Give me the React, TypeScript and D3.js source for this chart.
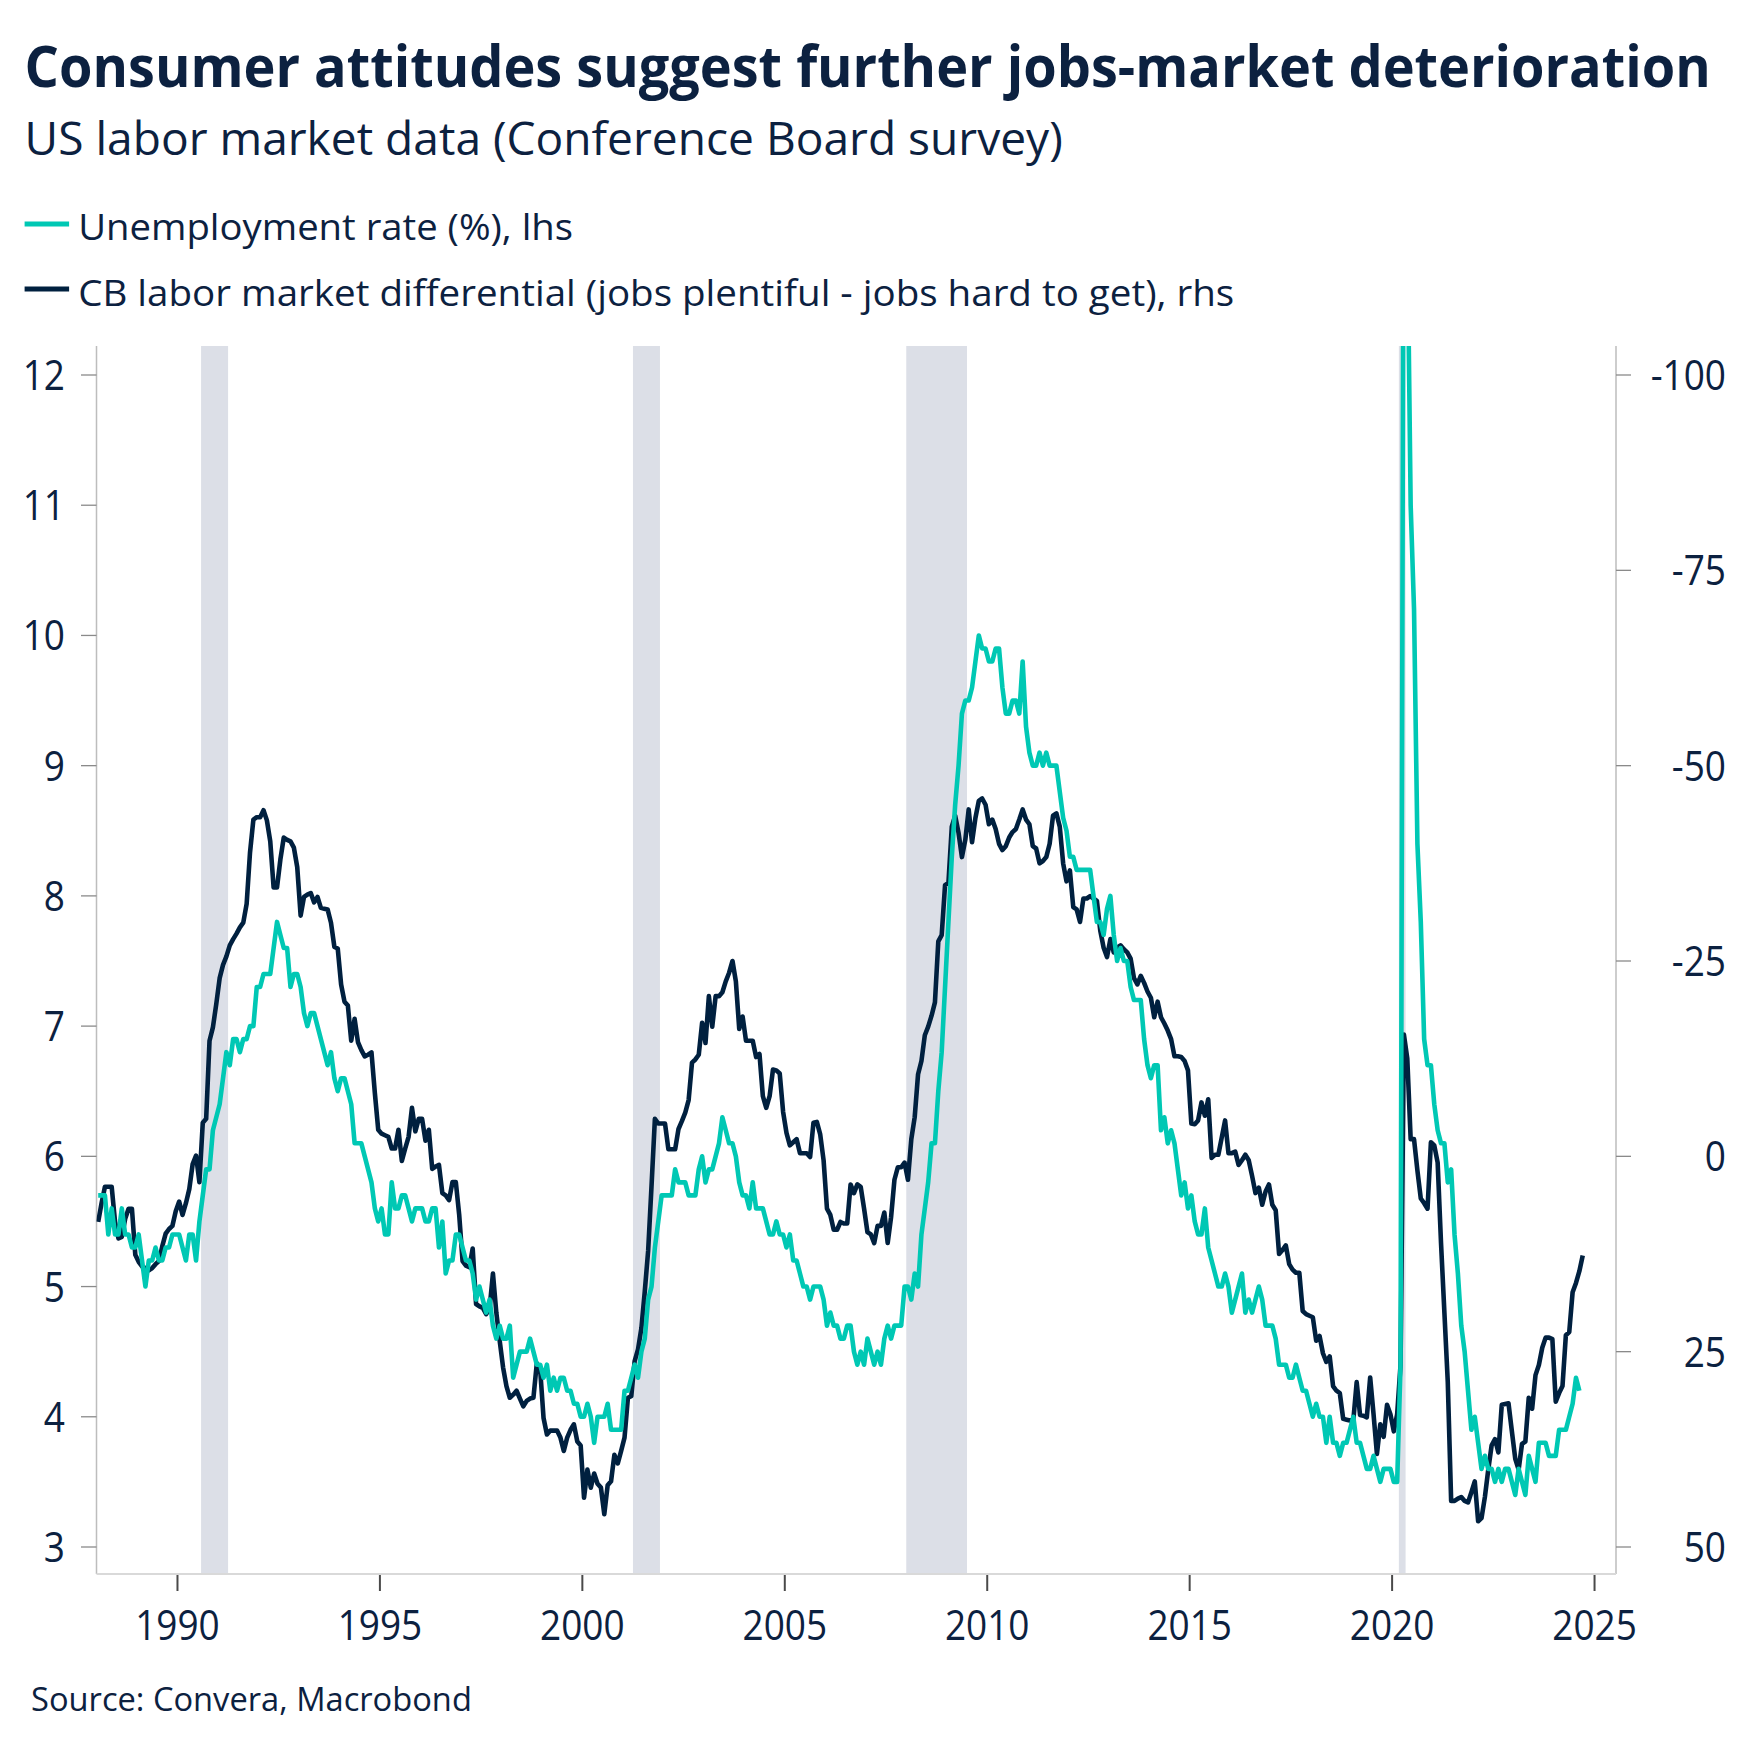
import React, { useLayoutEffect, useRef, useState } from 'react';
import * as d3 from 'd3';

const START_YEAR = 1988;

// US unemployment rate (%), monthly, Jan 1988 onward
const unemployment1988to1999 = [
  5.7, 5.7, 5.7, 5.4, 5.6, 5.4, 5.4, 5.6, 5.4, 5.4, 5.3, 5.3,
  5.4, 5.2, 5.0, 5.2, 5.2, 5.3, 5.2, 5.2, 5.3, 5.3, 5.4, 5.4,
  5.4, 5.3, 5.2, 5.4, 5.4, 5.2, 5.5, 5.7, 5.9, 5.9, 6.2, 6.3,
  6.4, 6.6, 6.8, 6.7, 6.9, 6.9, 6.8, 6.9, 6.9, 7.0, 7.0, 7.3,
  7.3, 7.4, 7.4, 7.4, 7.6, 7.8, 7.7, 7.6, 7.6, 7.3, 7.4, 7.4,
  7.3, 7.1, 7.0, 7.1, 7.1, 7.0, 6.9, 6.8, 6.7, 6.8, 6.6, 6.5,
  6.6, 6.6, 6.5, 6.4, 6.1, 6.1, 6.1, 6.0, 5.9, 5.8, 5.6, 5.5,
  5.6, 5.4, 5.4, 5.8, 5.6, 5.6, 5.7, 5.7, 5.6, 5.5, 5.6, 5.6,
  5.6, 5.5, 5.5, 5.6, 5.6, 5.3, 5.5, 5.1, 5.2, 5.2, 5.4, 5.4,
  5.3, 5.2, 5.2, 5.1, 4.9, 5.0, 4.9, 4.8, 4.9, 4.7, 4.6, 4.7,
  4.6, 4.6, 4.7, 4.3, 4.4, 4.5, 4.5, 4.5, 4.6, 4.5, 4.4, 4.4,
  4.3, 4.4, 4.2, 4.3, 4.2, 4.3, 4.3, 4.2, 4.2, 4.1, 4.1, 4.0,
];
const unemployment2000to2009 = [
  4.0, 4.1, 4.0, 3.8, 4.0, 4.0, 4.0, 4.1, 3.9, 3.9, 3.9, 3.9,
  4.2, 4.2, 4.3, 4.4, 4.3, 4.5, 4.6, 4.9, 5.0, 5.3, 5.5, 5.7,
  5.7, 5.7, 5.7, 5.9, 5.8, 5.8, 5.8, 5.7, 5.7, 5.7, 5.9, 6.0,
  5.8, 5.9, 5.9, 6.0, 6.1, 6.3, 6.2, 6.1, 6.1, 6.0, 5.8, 5.7,
  5.7, 5.6, 5.8, 5.6, 5.6, 5.6, 5.5, 5.4, 5.4, 5.5, 5.4, 5.4,
  5.3, 5.4, 5.2, 5.2, 5.1, 5.0, 5.0, 4.9, 5.0, 5.0, 5.0, 4.9,
  4.7, 4.8, 4.7, 4.7, 4.6, 4.6, 4.7, 4.7, 4.5, 4.4, 4.5, 4.4,
  4.6, 4.5, 4.4, 4.5, 4.4, 4.6, 4.7, 4.6, 4.7, 4.7, 4.7, 5.0,
  5.0, 4.9, 5.1, 5.0, 5.4, 5.6, 5.8, 6.1, 6.1, 6.5, 6.8, 7.3,
  7.8, 8.3, 8.7, 9.0, 9.4, 9.5, 9.5, 9.6, 9.8, 10.0, 9.9, 9.9,
];
const unemployment2010to2019 = [
  9.8, 9.8, 9.9, 9.9, 9.6, 9.4, 9.4, 9.5, 9.5, 9.4, 9.8, 9.3,
  9.1, 9.0, 9.0, 9.1, 9.0, 9.1, 9.0, 9.0, 9.0, 8.8, 8.6, 8.5,
  8.3, 8.3, 8.2, 8.2, 8.2, 8.2, 8.2, 8.0, 7.8, 7.8, 7.7, 7.9,
  8.0, 7.7, 7.5, 7.6, 7.5, 7.5, 7.3, 7.2, 7.2, 7.2, 6.9, 6.7,
  6.6, 6.7, 6.7, 6.2, 6.3, 6.1, 6.2, 6.1, 5.9, 5.7, 5.8, 5.6,
  5.7, 5.5, 5.4, 5.4, 5.6, 5.3, 5.2, 5.1, 5.0, 5.0, 5.1, 5.0,
  4.8, 4.9, 5.0, 5.1, 4.8, 4.9, 4.8, 4.9, 5.0, 4.9, 4.7, 4.7,
  4.7, 4.6, 4.4, 4.4, 4.4, 4.3, 4.3, 4.4, 4.3, 4.2, 4.2, 4.1,
  4.0, 4.1, 4.0, 4.0, 3.8, 4.0, 3.8, 3.8, 3.7, 3.8, 3.8, 3.9,
  4.0, 3.8, 3.8, 3.7, 3.6, 3.6, 3.7, 3.6, 3.5, 3.6, 3.6, 3.6,
];
const unemployment2020to2024 = [
  3.5, 3.5, 4.4, 14.8, 13.2, 11.0, 10.2, 8.4, 7.8, 6.9, 6.7, 6.7,
  6.4, 6.2, 6.1, 6.1, 5.8, 5.9, 5.4, 5.1, 4.7, 4.5, 4.2, 3.9,
  4.0, 3.8, 3.6, 3.7, 3.6, 3.6, 3.5, 3.6, 3.5, 3.6, 3.6, 3.5,
  3.4, 3.6, 3.5, 3.4, 3.7, 3.6, 3.5, 3.8, 3.8, 3.8, 3.7, 3.7,
  3.7, 3.9, 3.9, 3.9, 4.0, 4.1, 4.3, 4.2,
];

// Conference Board labor differential (jobs plentiful - jobs hard to get), monthly, Jan 1988 onward
const differential1988to1999 = [
  8.4, 6.0, 3.9, 3.9, 3.9, 8.4, 10.5, 10.3, 8.0, 6.7, 6.7, 12.6,
  13.5, 14.1, 14.3, 14.6, 14.3, 13.8, 13.4, 11.5, 9.9, 9.3, 8.9, 7.0,
  5.8, 7.5, 6.0, 4.2, 1.0, -0.1, 3.3, -4.3, -4.8, -14.8, -16.5, -19.5,
  -22.8, -24.5, -25.6, -27.0, -27.8, -28.5, -29.3, -29.9, -32.3, -38.9, -43.1, -43.4,
  -43.4, -44.3, -43.0, -40.3, -34.4, -34.4, -38.0, -40.8, -40.5, -40.3, -39.5, -37.0,
  -30.8, -33.2, -33.5, -33.7, -32.5, -33.2, -31.8, -31.7, -31.6, -29.9, -26.8, -26.6,
  -22.0, -19.8, -19.3, -14.8, -17.6, -14.6, -13.6, -12.8, -13.0, -13.3, -8.1, -3.4,
  -2.9, -2.7, -2.5, -1.0, -1.0, -3.4, 0.6, -1.0, -2.5, -6.2, -3.2, -4.8,
  -4.8, -2.0, -3.4, 1.6, 1.3, 1.1, 4.7, 5.0, 5.6, 3.3, 3.3, 7.5,
  13.4, 14.0, 14.2, 11.8, 18.9, 19.2, 19.4, 20.2, 19.5, 15.0, 20.0, 23.6,
  27.0, 29.4, 30.9, 30.5, 30.0, 31.0, 32.0, 31.3, 31.0, 30.9, 26.5, 27.3,
  33.5, 35.6, 35.1, 35.1, 35.1, 36.0, 37.7, 36.0, 35.0, 34.3, 36.5, 37.0,
];
const differential2000to2009 = [
  43.7, 40.1, 42.4, 40.6, 41.9, 42.4, 45.8, 42.1, 41.6, 38.2, 39.3, 37.7,
  36.0, 30.9, 30.7, 26.2, 24.7, 22.0, 17.3, 12.1, 3.8, -4.8, -4.2, -4.2,
  -4.2, -0.9, -0.9, -0.9, -3.5, -4.5, -5.6, -7.2, -12.0, -12.4, -13.0, -17.1,
  -14.5, -20.5, -16.6, -20.5, -20.5, -21.0, -22.4, -23.5, -25.0, -22.4, -16.3, -17.9,
  -14.8, -14.8, -14.8, -12.7, -13.1, -7.7, -6.2, -7.7, -11.1, -11.0, -10.6, -5.7,
  -3.0, -1.4, -1.8, -2.2, -0.4, -0.4, -0.4, 0.1, -4.3, -4.4, -2.8, 0.5,
  6.7, 7.5, 9.4, 9.4, 8.4, 8.6, 8.6, 3.6, 4.7, 3.6, 3.9, 6.7,
  9.7, 10.0, 11.1, 8.9, 8.9, 7.2, 11.1, 7.8, 3.0, 1.4, 1.4, 0.8,
  3.0, -2.2, -5.0, -10.5, -12.2, -15.5, -16.6, -18.0, -19.7, -27.5, -28.3, -34.7,
  -35.0, -42.2, -43.6, -41.4, -38.3, -40.5, -44.4, -40.2, -43.3, -45.5, -45.8, -45.0,
];
const differential2010to2019 = [
  -42.5, -43.1, -41.9, -40.0, -39.2, -39.7, -40.8, -41.5, -41.9, -43.1, -44.4, -43.1,
  -42.5, -39.7, -39.4, -37.5, -37.8, -38.3, -40.0, -43.6, -43.9, -42.2, -37.5, -35.2,
  -36.6, -31.9, -31.6, -30.0, -33.0, -33.0, -33.3, -33.0, -32.7, -28.9, -26.7, -25.5,
  -27.8, -26.1, -26.7, -27.0, -26.5, -26.1, -25.3, -22.8, -22.0, -23.1, -22.2, -21.1,
  -20.3, -17.8, -19.8, -17.8, -17.0, -16.1, -15.0, -12.8, -12.8, -12.7, -12.2, -11.0,
  -4.2, -4.1, -4.6, -6.9, -5.2, -7.3, 0.2, -0.2, -0.2, -2.4, -4.6, -0.4,
  -0.4, -0.6, 1.1, 0.5, -0.2, 0.5, 2.5, 4.7, 4.0, 6.2, 4.5, 3.6,
  6.2, 6.9, 12.5, 12.0, 11.4, 13.8, 14.5, 14.9, 14.9, 19.8, 20.2, 20.4,
  20.6, 23.6, 23.0, 25.2, 26.3, 25.6, 29.4, 30.0, 30.3, 33.6, 33.7, 33.8,
  33.8, 28.9, 33.1, 33.2, 33.4, 28.3, 33.0, 38.1, 34.3, 35.9, 31.8, 33.0,
];
const differential2020to2024 = [
  35.2, 33.0, 26.7, -15.6, -12.5, -2.2, -2.2, 1.8, 5.4, 6.0, 6.7, -1.8,
  -1.4, 0.8, 11.1, 20.0, 28.9, 44.1, 44.1, 43.8, 43.6, 44.1, 44.3, 43.0,
  41.6, 46.7, 46.3, 43.6, 40.1, 37.0, 36.2, 37.9, 31.8, 31.7, 31.6, 35.2,
  38.7, 40.1, 36.8, 36.5, 30.9, 32.3, 28.0, 26.7, 24.5, 23.2, 23.2, 23.4,
  31.4, 30.3, 29.4, 22.9, 22.5, 17.4, 16.2, 14.7, 12.7,
];

const xTickYears = [1990, 1995, 2000, 2005, 2010, 2015, 2020, 2025];
const leftTicks = [3, 4, 5, 6, 7, 8, 9, 10, 11, 12];
const rightTicks = [-100, -75, -50, -25, 0, 25, 50];
const recessionStarts = [1990.583, 2001.25, 2008.0, 2020.167];
const recessionEnds = [1991.25, 2001.917, 2009.5, 2020.333];

const TITLE = 'Consumer attitudes suggest further jobs-market deterioration';
const SUBTITLE = 'US labor market data (Conference Board survey)';
const LEGEND_UNEMP = 'Unemployment rate (%), lhs';
const LEGEND_DIFF = 'CB labor market differential (jobs plentiful - jobs hard to get), rhs';
const SOURCE = 'Source: Convera, Macrobond';

const TEXT = '#0c2140';
const TEAL = '#00c8b4';
const NAVY = '#00203f';
const BAND = '#dcdfe7';
const FONT = '"Open Sans", "Noto Sans", sans-serif';

const W = 1751;
const H = 1753;
const P = { left: 96.5, right: 1616, top: 346, bottom: 1574 };

// Text that is horizontally scaled so that it spans a target width
function FitText(props: {
  x: number;
  y: number;
  width: number;
  fontSize: number;
  fontWeight?: number;
  children: string;
}) {
  const { x, y, width, fontSize, fontWeight, children } = props;
  const ref = useRef<SVGTextElement>(null);
  const [s, setS] = useState(0.88);
  useLayoutEffect(() => {
    if (ref.current) {
      const w = ref.current.getComputedTextLength();
      if (w > 0) setS(width / w);
    }
  }, [width, children, fontSize]);
  return (
    <text
      ref={ref}
      transform={`translate(${x},${y}) scale(${s},1)`}
      fontSize={fontSize}
      fontWeight={fontWeight ?? 400}
      fill={TEXT}
    >
      {children}
    </text>
  );
}

export default function App() {
  const unemployment = [
    ...unemployment1988to1999,
    ...unemployment2000to2009,
    ...unemployment2010to2019,
    ...unemployment2020to2024,
  ];
  const differential = [
    ...differential1988to1999,
    ...differential2000to2009,
    ...differential2010to2019,
    ...differential2020to2024,
  ];

  const x = d3.scaleLinear().domain([1988.0, 2025.53]).range([P.left, P.right]);
  const yL = d3.scaleLinear().domain([3, 12]).range([1547, 375]);
  const yR = d3.scaleLinear().domain([-100, 50]).range([375, 1547]);
  const t = (i: number) => START_YEAR + (i + 0.5) / 12;

  const lineL = d3
    .line<number>()
    .x((_, i) => x(t(i)))
    .y((d) => yL(d));
  const lineR = d3
    .line<number>()
    .x((_, i) => x(t(i)))
    .y((d) => yR(d));

  const SX = 0.88;

  return (
    <svg
      width={W}
      height={H}
      viewBox={`0 0 ${W} ${H}`}
      style={{ position: 'absolute', left: 0, top: 0, display: 'block', background: '#fff' }}
      fontFamily={FONT}
    >
      <rect x={0} y={0} width={W} height={H} fill="#fff" />
      <defs>
        <clipPath id="plotClip">
          <rect x={P.left} y={P.top} width={P.right - P.left} height={P.bottom - P.top} />
        </clipPath>
      </defs>

      {/* Title block */}
      <FitText x={24.6} y={86.7} width={1686} fontSize={57} fontWeight={700}>
        {TITLE}
      </FitText>
      <FitText x={24.6} y={155} width={1038} fontSize={46}>
        {SUBTITLE}
      </FitText>

      {/* Legend */}
      <rect x={24.6} y={221.5} width={44.5} height={5} fill={TEAL} />
      <FitText x={78.2} y={240} width={495} fontSize={37}>
        {LEGEND_UNEMP}
      </FitText>
      <rect x={24.6} y={286.5} width={44.5} height={5} fill={NAVY} />
      <FitText x={78.2} y={306} width={1156} fontSize={37}>
        {LEGEND_DIFF}
      </FitText>

      {/* Recession bands */}
      {recessionStarts.map((s, i) => (
        <rect
          key={`rec-${i}`}
          x={x(s)}
          y={P.top}
          width={x(recessionEnds[i]) - x(s)}
          height={P.bottom - P.top}
          fill={BAND}
        />
      ))}

      {/* Axes frame */}
      <line x1={P.left} x2={P.left} y1={P.top} y2={P.bottom} stroke="#bdbdbd" strokeWidth={1.5} />
      <line x1={P.right} x2={P.right} y1={P.top} y2={P.bottom} stroke="#bdbdbd" strokeWidth={1.5} />
      <line x1={P.left} x2={P.right} y1={P.bottom} y2={P.bottom} stroke="#d9d9d9" strokeWidth={2} />

      {/* Left axis ticks */}
      {leftTicks.map((v) => (
        <g key={`l-${v}`}>
          <line x1={81} x2={P.left} y1={yL(v)} y2={yL(v)} stroke="#8a8a8a" strokeWidth={1.3} />
          <text
            transform={`translate(65,${yL(v) + 15}) scale(${SX},1)`}
            textAnchor="end"
            fontSize={42}
            fill={TEXT}
          >
            {v}
          </text>
        </g>
      ))}

      {/* Right axis ticks */}
      {rightTicks.map((v) => (
        <g key={`r-${v}`}>
          <line x1={P.right} x2={1631} y1={yR(v)} y2={yR(v)} stroke="#8a8a8a" strokeWidth={1.3} />
          <text
            transform={`translate(1726,${yR(v) + 15}) scale(${SX},1)`}
            textAnchor="end"
            fontSize={42}
            fill={TEXT}
          >
            {v}
          </text>
        </g>
      ))}

      {/* X axis ticks */}
      {xTickYears.map((yr) => (
        <g key={`x-${yr}`}>
          <line x1={x(yr)} x2={x(yr)} y1={P.bottom + 1} y2={1591} stroke="#4a4a4a" strokeWidth={2} />
          <text
            transform={`translate(${x(yr)},1640) scale(${SX},1)`}
            textAnchor="middle"
            fontSize={42}
            fill={TEXT}
          >
            {yr}
          </text>
        </g>
      ))}

      {/* Series */}
      <g clipPath="url(#plotClip)">
        <path d={lineR(differential) ?? ''} fill="none" stroke={NAVY} strokeWidth={4.6} strokeLinejoin="round" />
        <path d={lineL(unemployment) ?? ''} fill="none" stroke={TEAL} strokeWidth={4.6} strokeLinejoin="round" />
      </g>

      {/* Source */}
      <FitText x={31} y={1710.7} width={441} fontSize={33}>
        {SOURCE}
      </FitText>
    </svg>
  );
}
